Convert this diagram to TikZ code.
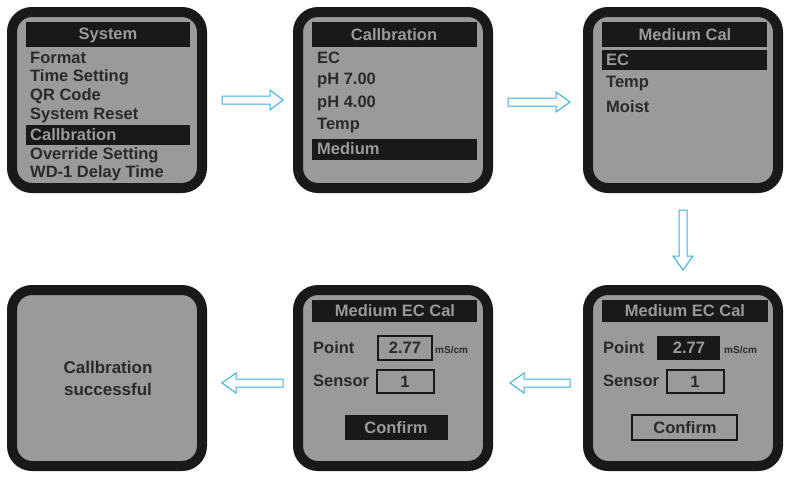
\documentclass[tikz,border=0pt]{standalone}
\usepackage{fontspec}
\setmainfont{Liberation Sans}
\begin{document}
\begin{tikzpicture}[x=1pt,y=-1pt,
  screen/.style={draw=black!90,line width=10pt,fill=lcd,rounded corners=20pt,minimum width=190pt,minimum height=176pt,inner sep=0pt},
  txt/.style={anchor=west,font=\bfseries\fontsize{16.5}{16.5}\selectfont,text=txtc,inner sep=0pt},
  ctxt/.style={font=\bfseries\fontsize{16.5}{16.5}\selectfont,text=txtc,inner sep=0pt},
  bar/.style={fill=black!90},
  box/.style={draw=black!90,line width=1.2pt},
  arr/.style={draw=arrc,line width=1pt,fill=white}]
\definecolor{lcd}{HTML}{9A9A9A}
\definecolor{txtc}{HTML}{2A2A2A}
\definecolor{arrc}{HTML}{3AAEDB}
\useasboundingbox (0,0) rectangle (788,477);
\fill[white] (0,0) rectangle (788,477);
% screens
\node[screen] (s1) at (107,100) {};
\node[screen] (s2) at (393,100) {};
\node[screen] (s3) at (683,100) {};
\node[screen] (s4) at (107,378) {};
\node[screen] (s5) at (393,378) {};
\node[screen] (s6) at (683,378) {};
% screen 1
\fill[bar] (26,22) rectangle (190,47);
\node[ctxt,text=lcd] (t1) at (108,35) {System};
\node[txt] (a1) at (30,58) {Format};
\node[txt] (a2) at (30,77) {Time Setting};
\node[txt] (a3) at (30,96) {QR Code};
\node[txt] (a4) at (30,115) {System Reset};
\fill[bar] (26,125) rectangle (190,145);
\node[txt,text=lcd] (a5) at (30,135) {Callbration};
\node[txt] (a6) at (30,155) {Override Setting};
\node[txt] (a7) at (30,173) {WD-1 Delay Time};
% screen 2
\fill[bar] (312,22) rectangle (477,47);
\node[ctxt,text=lcd] (t2) at (394,35) {Callbration};
\node[txt] (b1) at (317,58) {EC};
\node[txt] (b2) at (317,80) {pH 7.00};
\node[txt] (b3) at (317,103) {pH 4.00};
\node[txt] (b4) at (317,126) {Temp};
\fill[bar] (312,139) rectangle (477,160);
\node[txt,text=lcd] (b5) at (317,149) {Medium};
% screen 3
\fill[bar] (602,22) rectangle (767,47);
\node[ctxt,text=lcd] (t3) at (685,35) {Medium Cal};
\fill[bar] (602,50) rectangle (767,70);
\node[txt,text=lcd] (c1) at (606,60) {EC};
\node[txt] (c2) at (606,84) {Temp};
\node[txt] (c3) at (606,107) {Moist};
% screen 6
\fill[bar] (602,300) rectangle (768,322);
\node[ctxt,text=lcd] (t6) at (685,311) {Medium EC Cal};
\node[txt] (f1) at (603,348) {Point};
\fill[bar] (657,336) rectangle (720,360);
\node[ctxt,text=lcd] (f2) at (689,348) {2.77};
\node[txt,font=\bfseries\fontsize{10}{10}\selectfont] (f3) at (724,350) {mS/cm};
\node[txt] (f4) at (603,381) {Sensor};
\draw[box] (667,370) rectangle (724,393);
\node[ctxt] (f5) at (695,382) {1};
\draw[box] (632,415) rectangle (737,440);
\node[ctxt] (f6) at (685,428) {Confirm};
% screen 5
\fill[bar] (312,300) rectangle (477,322);
\node[ctxt,text=lcd] (t5) at (395,311) {Medium EC Cal};
\node[txt] (e1) at (313,348) {Point};
\draw[box] (378,336) rectangle (432,360);
\node[ctxt] (e2) at (405,348) {2.77};
\node[txt,font=\bfseries\fontsize{10}{10}\selectfont] (e3) at (435,350) {mS/cm};
\node[txt] (e4) at (313,381) {Sensor};
\draw[box] (377,370) rectangle (434,393);
\node[ctxt] (e5) at (405,382) {1};
\fill[bar] (345,415) rectangle (448,440);
\node[ctxt,text=lcd] (e6) at (396,428) {Confirm};
% screen 4
\node[ctxt,align=center,font=\bfseries\fontsize{17}{22}\selectfont] (d1) at (108,378) {Callbration\\successful};
% arrows (hollow)
\draw[arr] (222,96) -- (270,96) -- (270,90) -- (283,100) -- (270,110) -- (270,104) -- (222,104) -- cycle;
\draw[arr] (508,98) -- (556,98) -- (556,92) -- (570,102) -- (556,112) -- (556,106) -- (508,106) -- cycle;
\draw[arr] (679,210) -- (679,256) -- (673,256) -- (683,270) -- (693,256) -- (687,256) -- (687,210) -- cycle;
\draw[arr] (570,379) -- (524,379) -- (524,373) -- (510,383) -- (524,393) -- (524,387) -- (570,387) -- cycle;
\draw[arr] (283,379) -- (236,379) -- (236,373) -- (222,383) -- (236,393) -- (236,387) -- (283,387) -- cycle;
\end{tikzpicture}
\end{document}
